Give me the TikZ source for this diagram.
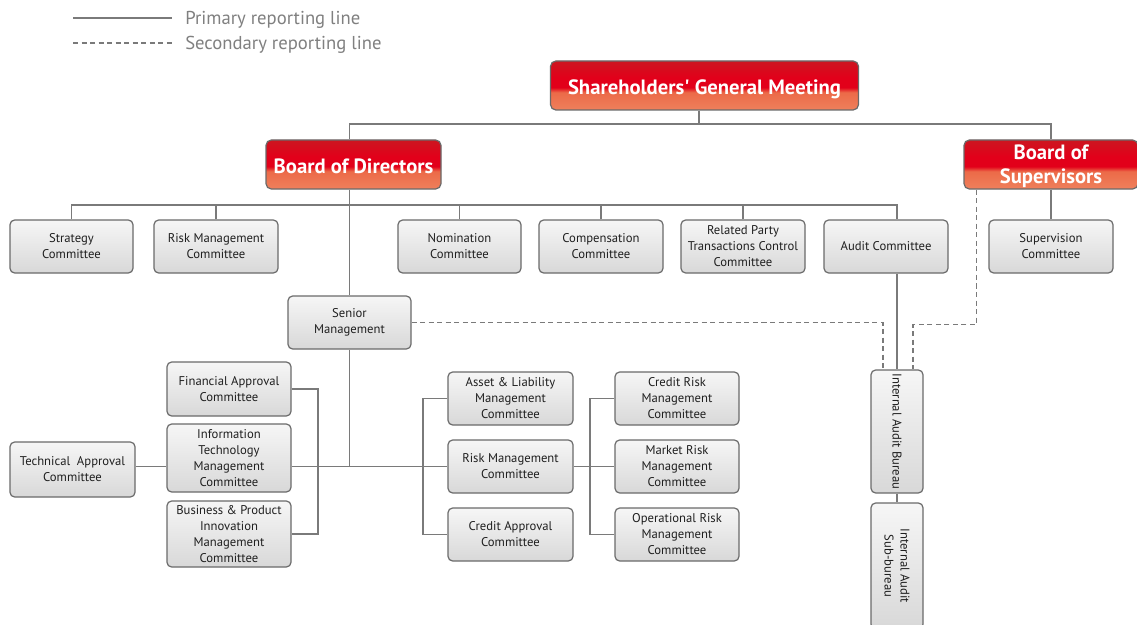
\documentclass[tikz,border=0pt]{standalone}
\usepackage{fontspec}
\setmainfont{PT Sans}
\usetikzlibrary{calc,backgrounds}
\definecolor{lineg}{HTML}{7A7A7A}
\definecolor{boxborder}{HTML}{6A6A6A}
\definecolor{gtop}{HTML}{F6F6F6}
\definecolor{gbot}{HTML}{D8D8D8}
\definecolor{legtext}{HTML}{808080}
\definecolor{rtop}{HTML}{CC1620}
\definecolor{rmid}{HTML}{E2001A}
\definecolor{omid}{HTML}{EC6A48}
\definecolor{obot}{HTML}{EF805C}
\pgfdeclareverticalshading{redbox}{100bp}{color(0bp)=(obot); color(25bp)=(obot); color(43bp)=(omid); color(48bp)=(rmid); color(58bp)=(rmid); color(75bp)=(rtop); color(100bp)=(rtop)}
\newdimen\pxu \pxu=0.75pt
\tikzset{
  conn/.style={draw=lineg, line width=1.1pt},
  secconn/.style={draw=lineg, line width=1.1pt, dash pattern=on 3.8pt off 2.6pt},
  gbox/.style={draw=boxborder, line width=0.9pt, rounded corners=3.5pt,
    top color=gtop, bottom color=gbot, align=center, inner sep=0pt,
    text=black!88, font=\fontsize{9.5}{12}\selectfont,
    minimum width=124\pxu, minimum height=53\pxu},
  vbox/.style={gbox, rotate=-90},
  rbox/.style={draw=boxborder, line width=0.9pt, rounded corners=4pt,
    shading=redbox, shading angle=0, align=center, inner sep=0pt,
    text=white, font=\bfseries\fontsize{15.5}{18}\selectfont,
    minimum height=49\pxu},
  rone/.style={rbox, text height=16pt, text depth=3pt},
  legtxt/.style={anchor=west, text=legtext, font=\fontsize{14}{16}\selectfont, inner sep=0pt}
}
\begin{document}
\begin{tikzpicture}[x=0.75pt,y=-0.75pt]
\useasboundingbox (0,0) rectangle (1137,624);
% legend
\coordinate (l1a) at (73,18); \coordinate (l1b) at (172,18);
\coordinate (l2a) at (73,43); \coordinate (l2b) at (172,43);
\node[legtxt] (leg1) at (185,20) {Primary reporting line};
\node[legtxt] (leg2) at (185,45) {Secondary reporting line};
\draw[conn] (l1a) -- (l1b);
\draw[secconn] (l2a) -- (l2b);
% red boxes
\node[rone, minimum width=308\pxu] (sgm) at (704.5,85.5) {Shareholders\textquotesingle\ General Meeting};
\node[rone, minimum width=175\pxu] (bod) at (353.5,164.5) {Board of Directors};
\node[rbox, text depth=0pt, minimum width=174\pxu] (bos) at (1051,164.5) {Board of\\Supervisors};
% committees row
\node[gbox, minimum width=123\pxu] (strat) at (71.5,246.5) {Strategy\\Committee};
\node[gbox] (riskc) at (216,246.5) {Risk Management\\Committee};
\node[gbox, minimum width=123\pxu] (nom) at (459.5,246.5) {Nomination\\Committee};
\node[gbox] (comp) at (601,246.5) {Compensation\\Committee};
\node[gbox] (rpt) at (743,246.5) {Related Party\\Transactions Control\\Committee};
\node[gbox] (audit) at (886,246.5) {Audit Committee};
\node[gbox] (sup) at (1051,246.5) {Supervision\\Committee};
% senior
\node[gbox, minimum width=123\pxu] (senior) at (349.5,322.5) {Senior\\Management};
% left group
\node[gbox, minimum height=54\pxu] (fin) at (229,389) {Financial Approval\\Committee};
\node[gbox, minimum height=68\pxu] (it) at (229,458) {Information\\Technology\\Management\\Committee};
\node[gbox, minimum height=66\pxu] (bpi) at (229,534) {Business \& Product\\Innovation\\Management\\Committee};
\node[gbox, minimum height=55\pxu, minimum width=125\pxu] (tech) at (72.5,469.5) {Technical\ \ Approval\\Committee};
% middle group
\node[gbox, minimum width=125\pxu] (alm) at (510.5,398.5) {Asset \& Liability\\Management\\Committee};
\node[gbox, minimum width=125\pxu] (rmc) at (510.5,466.5) {Risk Management\\Committee};
\node[gbox, minimum width=125\pxu] (cac) at (510.5,534.5) {Credit Approval\\Committee};
\node[gbox] (crm) at (677,398.5) {Credit Risk\\Management\\Committee};
\node[gbox] (mrm) at (677,466.5) {Market Risk\\Management\\Committee};
\node[gbox] (orm) at (677,534.5) {Operational Risk\\Management\\Committee};
% internal audit
\node[vbox, minimum width=123\pxu, minimum height=52\pxu] (iab) at (897,431.5) {Internal Audit Bureau};
\node[vbox, minimum width=126\pxu, minimum height=52\pxu] (iasb) at (897,566) {Internal Audit\\Sub-bureau};
\begin{scope}[on background layer]
\fill[white] (0,0) rectangle (1137,624);
\coordinate (topbus) at (0,124);
\coordinate (dbus) at (0,205);
\coordinate (lbk) at (318,0);
\coordinate (rbk) at (423,0);
\coordinate (rbk2) at (590,0);
\coordinate (sgmj) at ($(sgm.south)+(-5.5,0)$);
\draw[conn] (sgmj) -- (sgmj |- topbus);
\draw[conn] (senior.north |- bod.north) -- (senior.north |- topbus) -| (bos.north);
\draw[conn] (senior.north |- bod.south) -- (senior.north);
\draw[conn] (strat.north) -- (strat.north |- dbus) -| (iab.west |- audit.north);
\draw[conn] (riskc.north) -- (riskc.north |- dbus);
\draw[conn] (nom.north) -- (nom.north |- dbus);
\draw[conn] (comp.north) -- (comp.north |- dbus);
\draw[conn] (rpt.north) -- (rpt.north |- dbus);
\draw[conn] (bos.south) -- (sup.north);
\draw[conn] (senior.south) -- (senior.south |- rmc.west);
\draw[conn] (tech.east |- rmc.west) -- (it.west |- rmc.west);
\draw[conn] (it.east |- rmc.west) -- (rmc.west);
\draw[conn] (fin.east) -| (lbk |- bpi.east) -- (bpi.east);
\draw[conn] (alm.west) -| (rbk |- cac.west) -- (cac.west);
\draw[conn] (crm.west) -| (rbk2 |- orm.west) -- (orm.west);
\draw[conn] (rmc.east) -- (mrm.west);
\draw[conn] (iab.west |- audit.south) -- (iab.west);
\draw[conn] (iab.east) -- (iasb.west);
\draw[secconn] (senior.east) -| ($(iab.west)+(-14,0)$);
\draw[secconn] ($(bos.south west)+(13,0)$) -- ++(0,135) -| ($(iab.west)+(16,0)$);
\end{scope}
\end{tikzpicture}
\end{document}
